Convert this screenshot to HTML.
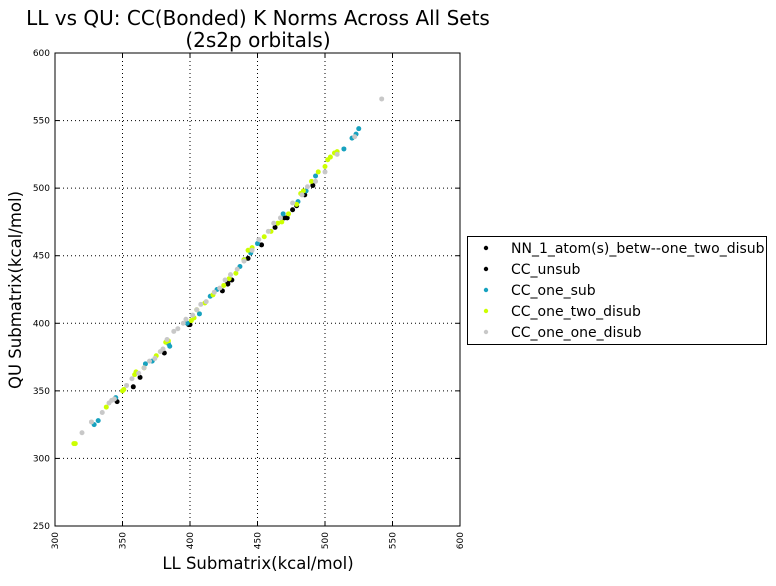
<!DOCTYPE html>
<html><head><meta charset="utf-8"><style>
body{margin:0;background:#fff;}
svg{font-family:"DejaVu Sans","Liberation Sans",sans-serif;}
</style></head><body>
<svg id="chart" width="776" height="581">
<rect width="776" height="581" fill="#fff"/>
<text x="258" y="25" font-size="20" text-anchor="middle">LL vs QU: CC(Bonded) K Norms Across All Sets</text>
<text x="258" y="47" font-size="20" text-anchor="middle">(2s2p orbitals)</text>
<g id="grid"></g>
<g id="points"></g>
<rect x="55" y="53" width="405" height="473" fill="none" stroke="#000" stroke-width="1"/>
<g id="ticks"></g>
<text x="258" y="569" font-size="16.5" text-anchor="middle">LL Submatrix(kcal/mol)</text>
<text x="21" y="290" font-size="16.5" text-anchor="middle" transform="rotate(-90 21 290)">QU Submatrix(kcal/mol)</text>
<g id="legend">
<rect x="467.5" y="236.5" width="299" height="108" fill="#fff" stroke="#000"/>
</g>
</svg>
<script>
const xTicks=[300,350,400,450,500,550,600];
const yTicks=[250,300,350,400,450,500,550,600];
const seriesNames=["NN_1_atom(s)_betw--one_two_disub","CC_unsub","CC_one_sub","CC_one_two_disub","CC_one_one_disub"];
const seriesColors=["#000000","#000000","#17a2bf","#ccff00","#c8c8c8"];
const nnX=[398,428];
const nnY=[400,430];
const unsubX=[346,358,363,381,399,400,424,428,431,443,453,463,470,472,476,479,485,491];
const unsubY=[342,353,360,378,399,399,424,429,432,448,458,471,478,478,484,487,495,502];
const oneSubX=[329,332,345,367,372,384,385,398,407,415,420,437,440,445,450,469,480,486,493,514,520,523,525];
const oneSubY=[325,328,345,370,372,385,383,400,407,420,425,442,447,452,459,481,490,498,509,529,537,540,544];
const twoDisubX=[314,315,338,350,351,359,360,366,375,382,384,401,403,405,411,417,425,429,434,440,443,446,455,460,465,468,473,479,482,484,490,495,500,502,504,507,509];
const twoDisubY=[311,311,338,350,351,362,364,367,376,386,387,402,404,410,415,421,428,433,437,447,454,456,464,468,474,475,481,488,496,498,505,512,516,521,523,526,527];
const oneOneX=[320,327,335,340,342,344,353,357,362,366,370,374,378,380,383,388,391,395,397,402,405,408,412,418,422,426,430,435,440,446,451,458,462,467,476,483,487,493,500,509,522,542];
const oneOneY=[319,327,334,341,343,344,354,359,363,367,372,374,379,381,388,394,396,400,403,406,410,414,416,423,426,432,436,440,446,454,462,468,474,478,489,495,501,505,512,525,538,566];
const NS="http://www.w3.org/2000/svg";
const X0=55,X1=460,Y0=526,Y1=53;
function sx(v){return X0+(v-300)/(600-300)*(X1-X0);}
function sy(v){return Y0-(v-250)/(600-250)*(Y0-Y1);}
function mk(t,a,p){const e=document.createElementNS(NS,t);for(const k in a)e.setAttribute(k,a[k]);p.appendChild(e);return e;}
const grid=document.getElementById('grid'),ticks=document.getElementById('ticks');
xTicks.forEach(v=>{const x=sx(v);
 if(v>300&&v<600){const g=mk('line',{x1:x,x2:x,y1:Y1,y2:Y0,stroke:'#000','stroke-dasharray':'1,3','stroke-width':1},grid);
 
 }
 mk('line',{x1:x,x2:x,y1:Y0,y2:Y0-4,stroke:'#000'},ticks);mk('line',{x1:x,x2:x,y1:Y1,y2:Y1+4,stroke:'#000'},ticks);
 const t=mk('text',{x:x+3,y:Y0+6,'font-size':9,'text-anchor':'end',transform:`rotate(-90 ${x+3} ${Y0+6})`},ticks);t.textContent=v;
 
 });
yTicks.forEach(v=>{const y=sy(v);
 if(v>250&&v<600){const g=mk('line',{x1:X0,x2:X1,y1:y,y2:y,stroke:'#000','stroke-dasharray':'1,3','stroke-width':1},grid);
 
 }
 mk('line',{x1:X0,x2:X0+4,y1:y,y2:y,stroke:'#000'},ticks);mk('line',{x1:X1,x2:X1-4,y1:y,y2:y,stroke:'#000'},ticks);
 const t=mk('text',{x:X0-5,y:y+3,'font-size':9,'text-anchor':'end'},ticks);t.textContent=v;
 
 });
const pts=document.getElementById('points');
const allX=[nnX,unsubX,oneSubX,twoDisubX,oneOneX],allY=[nnY,unsubY,oneSubY,twoDisubY,oneOneY];
allX.forEach((xs,i)=>{xs.forEach((v,j)=>{const c=mk('circle',{cx:sx(v),cy:sy(allY[i][j]),r:2.5,fill:seriesColors[i]},pts);
 
 });});
const leg=document.getElementById('legend');
seriesNames.forEach((n,i)=>{const y=248+i*21;
 const c=mk('circle',{cx:486,cy:y,r:2.2,fill:seriesColors[i]},leg);
 
 
 const t=mk('text',{x:511,y:y+5,'font-size':14},leg);t.textContent=n;
 
 });
</script>
</body></html>
